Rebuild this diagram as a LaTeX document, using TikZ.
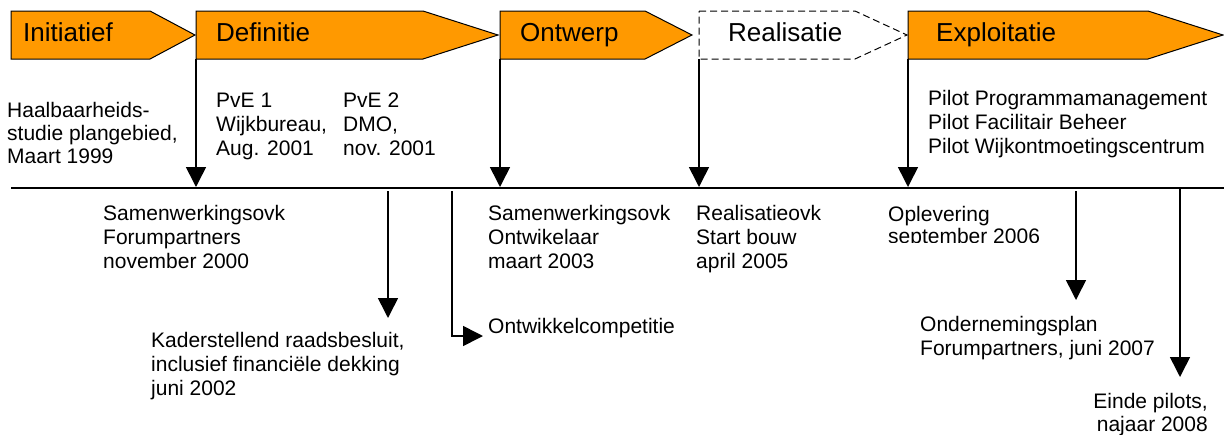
\documentclass[tikz,border=0pt]{standalone}
\usepackage{fontspec}
\setmainfont{Liberation Sans}
\usetikzlibrary{arrows.meta}
\definecolor{phaseorange}{HTML}{FF9900}
\begin{document}
\begin{tikzpicture}[x=1pt,y=-1pt,
  phase/.style={draw=black, line width=1pt, fill=phaseorange, line join=miter},
  planned/.style={draw=black, line width=1pt, dash pattern=on 7pt off 4pt},
  axis/.style={line width=2pt},
  milestone/.style={line width=1.6pt, -{Triangle[length=20pt,width=20pt]}},
  % multi-line labels are placed by the baseline of their last line
  lbl/.style={font=\fontsize{21}{24}\selectfont, inner sep=0pt, align=left, anchor=base west},
  title/.style={font=\fontsize{26}{30}\selectfont, inner sep=0pt, anchor=base west}]
\useasboundingbox (0,0) rectangle (1224,434);

% phase banners
\draw[phase] (11,11) -- (150,11) -- (195,35) -- (150,59) -- (11,59) -- cycle;
\draw[phase] (196,11) -- (423,11) -- (498,35) -- (423,59) -- (196,59) -- cycle;
\draw[phase] (500,11) -- (645,11) -- (692,35) -- (645,59) -- (500,59) -- cycle;
\draw[planned] (699,11) -- (855,11) -- (907,35) -- (855,59) -- (699,59) -- cycle;
\draw[phase] (908,11) -- (1148,11) -- (1223,35) -- (1148,59) -- (908,59) -- cycle;

\node[title] (initiatief) at (23,41) {Initiatief};
\node[title] (definitie) at (216,41) {Definitie};
\node[title] (ontwerp) at (520,41) {Ontwerp};
\node[title] (realisatie) at (728,41) {Realisatie};
\node[title] (exploitatie) at (936,41) {Exploitatie};

% phase starts
\coordinate (s-def) at (196,59);
\coordinate (s-ont) at (500,59);
\coordinate (s-rea) at (699,59);
\coordinate (s-exp) at (908,59);
\coordinate (t-def) at (196,187);
\coordinate (t-ont) at (500,187);
\coordinate (t-rea) at (699,187);
\coordinate (t-exp) at (908,187);

% time axis
\coordinate (axis-w) at (11,187.5);
\coordinate (axis-e) at (1224,187.5);
\draw[axis] (axis-w) -- (axis-e);

\draw[milestone] (s-def) -- (t-def);
\draw[milestone] (s-ont) -- (t-ont);
\draw[milestone] (s-rea) -- (t-rea);
\draw[milestone] (s-exp) -- (t-exp);

% events below the axis
\coordinate (f-kader) at (388,191);
\coordinate (e-kader) at (388,318);
\coordinate (f-comp) at (452,191);
\coordinate (e-comp) at (483,336);
\coordinate (f-plan) at (1076,191);
\coordinate (e-plan) at (1076,300);
\coordinate (f-einde) at (1180,187);
\coordinate (e-einde) at (1180,377);
\draw[milestone] (f-kader) -- (e-kader);
\draw[milestone] (f-comp) |- (e-comp);
\draw[milestone] (f-plan) -- (e-plan);
\draw[milestone] (f-einde) -- (e-einde);

% texts above the axis
\begin{scope}
  \clip (0,60) rectangle (190,163);
  \node[lbl, font=\fontsize{21}{23}\selectfont] (haalbaar) at (7,163) {Haalbaarheids-\\studie plangebied,\\Maart 1999};
\end{scope}
\node[lbl] (pve1) at (216,155) {PvE 1\\Wijkbureau,\\Aug. 2001};
\node[lbl] (pve2) at (343,155) {PvE 2\\DMO,\\nov. 2001};
\node[lbl] (pilots) at (928,153) {Pilot Programmamanagement\\Pilot Facilitair Beheer\\Pilot Wijkontmoetingscentrum};

% texts below the axis
\node[lbl] (samen1) at (103,268) {Samenwerkingsovk\\Forumpartners\\november 2000};
\node[lbl] (kader) at (151,395) {Kaderstellend raadsbesluit,\\inclusief financiële dekking\\juni 2002};
\node[lbl] (samen2) at (488,268) {Samenwerkingsovk\\Ontwikelaar\\maart 2003};
\node[lbl] (comp) at (488,333) {Ontwikkelcompetitie};
\node[lbl] (realovk) at (696,268) {Realisatieovk\\Start bouw\\april 2005};
\begin{scope}
  \clip (860,195) rectangle (1060,242.5);
  \node[lbl, font=\fontsize{21}{22}\selectfont] (oplev) at (888,243.5) {Oplevering\\september 2006};
\end{scope}
\node[lbl] (onderneming) at (920,355) {Ondernemingsplan\\Forumpartners, juni 2007};
\node[lbl, align=right, anchor=base east, font=\fontsize{21}{23}\selectfont] (einde) at (1208,431) {Einde pilots,\\najaar 2008};
\end{tikzpicture}
\end{document}
